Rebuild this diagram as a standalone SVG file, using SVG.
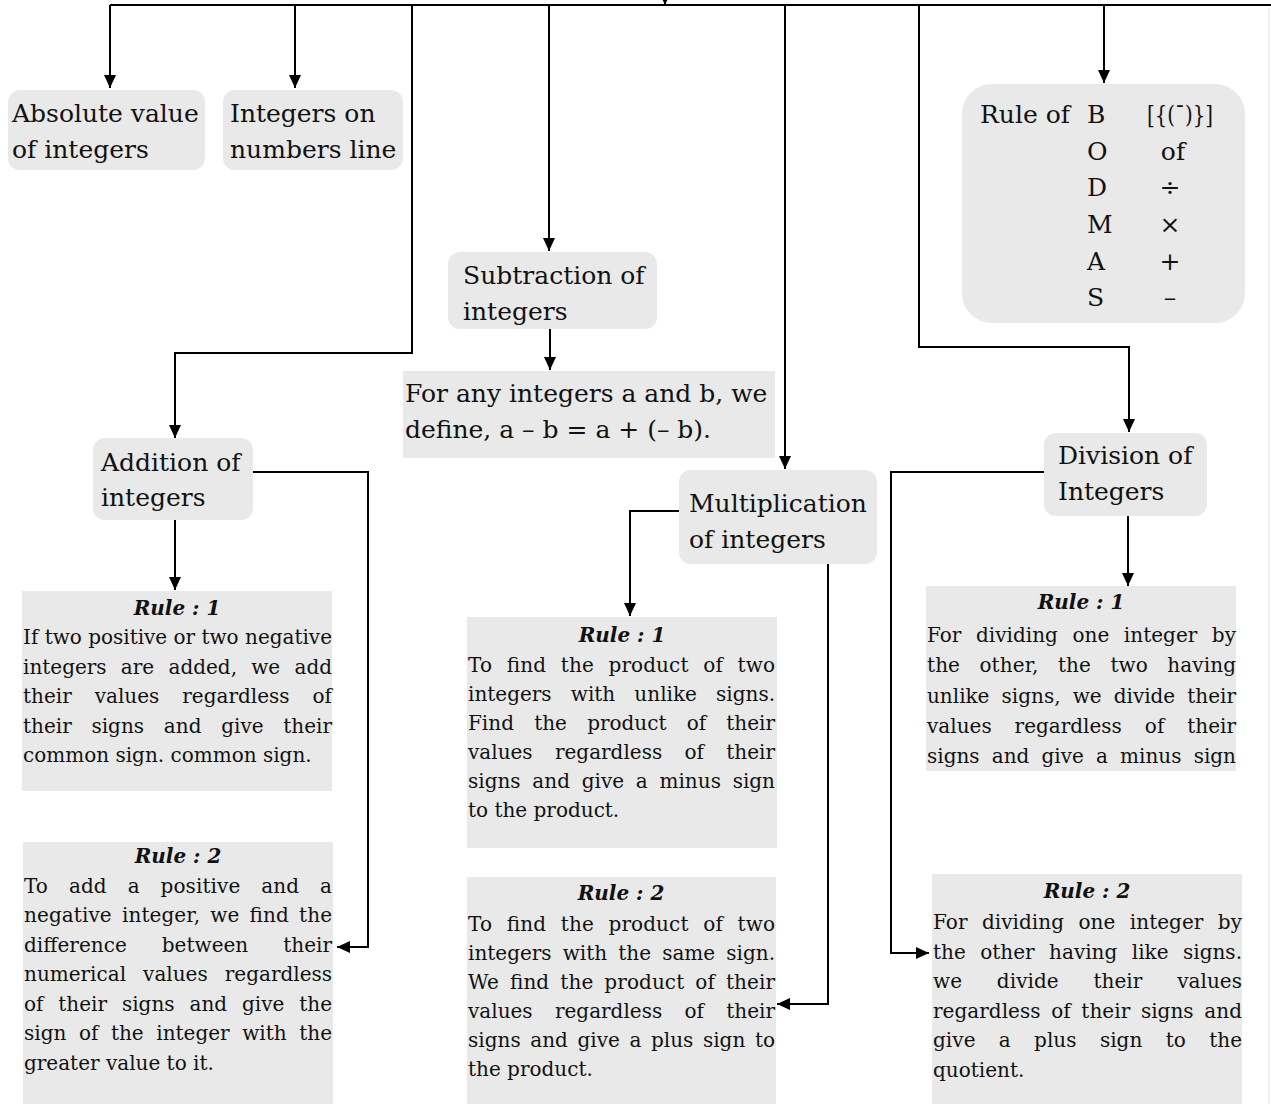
<svg xmlns="http://www.w3.org/2000/svg" width="1271" height="1104" viewBox="0 0 1271 1104">
  <style>
    .box { fill: #e9e9e9; }
    .t { font-family: "DejaVu Serif", "Liberation Serif", serif; font-size: 25px; fill: #111; }
    .b { font-family: "DejaVu Serif", "Liberation Serif", serif; font-size: 20px; fill: #111; }
    .h { font-family: "DejaVu Serif", "Liberation Serif", serif; font-size: 20px; font-weight: bold; font-style: italic; text-anchor: middle; fill: #111; }
    .m { text-anchor: middle; }
    .c { fill: none; stroke: #000; stroke-width: 2; }
  </style>
  <defs>
    <marker id="arr" viewBox="0 0 13 12" refX="13" refY="6" markerWidth="13" markerHeight="12" markerUnits="userSpaceOnUse" orient="auto">
      <path d="M0,0 L13,6 L0,12 z" fill="#000"/>
    </marker>
  </defs>
  <rect width="1271" height="1104" fill="#fff"/>

  <!-- connectors -->
  <g id="connectors">
    <line x1="1269" y1="8" x2="1269" y2="1104" stroke="#e2e2e2" stroke-width="1"/>
    <path class="c" d="M110,5 H1271"/>
    <path class="c" d="M665,-20 V5" marker-end="url(#arr)"/>
    <path class="c" d="M110,5 V88" marker-end="url(#arr)"/>
    <path class="c" d="M295,5 V88" marker-end="url(#arr)"/>
    <path class="c" d="M412,5 V353 H175 V438" marker-end="url(#arr)"/>
    <path class="c" d="M549,5 V251" marker-end="url(#arr)"/>
    <path class="c" d="M785,5 V469" marker-end="url(#arr)"/>
    <path class="c" d="M919,5 V347 H1129 V432" marker-end="url(#arr)"/>
    <path class="c" d="M1104,5 V83" marker-end="url(#arr)"/>
    <path class="c" d="M550,329 V370" marker-end="url(#arr)"/>
    <path class="c" d="M253,472 H368 V947 H337" marker-end="url(#arr)"/>
    <path class="c" d="M175,520 V590" marker-end="url(#arr)"/>
    <path class="c" d="M679,511 H630 V616" marker-end="url(#arr)"/>
    <path class="c" d="M828,564 V1004 H777" marker-end="url(#arr)"/>
    <path class="c" d="M1044,472 H891 V953 H929" marker-end="url(#arr)"/>
    <path class="c" d="M1128,516 V586" marker-end="url(#arr)"/>
  </g>

  <!-- top row -->
  <g id="absolute-value">
    <rect class="box" x="8" y="90" width="197" height="80" rx="12"/>
    <text class="t" x="12" y="122">Absolute value</text>
    <text class="t" x="12" y="158">of integers</text>
  </g>
  <g id="number-line">
    <rect class="box" x="223" y="90" width="180" height="80" rx="12"/>
    <text class="t" x="230" y="122">Integers on</text>
    <text class="t" x="230" y="158">numbers line</text>
  </g>
  <g id="bodmas">
    <rect class="box" x="962" y="84" width="283" height="239" rx="30"/>
    <text class="t" x="980" y="123">Rule of</text>
    <text class="t" x="1087" y="123">B</text>
    <text class="t" x="1087" y="160">O</text>
    <text class="t" x="1087" y="196">D</text>
    <text class="t" x="1087" y="233">M</text>
    <text class="t" x="1087" y="270">A</text>
    <text class="t" x="1087" y="306">S</text>
    <text class="t" x="1147" y="123" textLength="66" lengthAdjust="spacingAndGlyphs">[{(¯)}]</text>
    <text class="t m" x="1173" y="160">of</text>
    <text class="t m" x="1170" y="196">÷</text>
    <text class="t m" x="1170" y="233">×</text>
    <text class="t m" x="1170" y="270">+</text>
    <text class="t m" x="1170" y="306">–</text>
  </g>

  <!-- subtraction -->
  <g id="subtraction">
    <rect class="box" x="448" y="252" width="209" height="77" rx="12"/>
    <text class="t" x="463" y="284">Subtraction of</text>
    <text class="t" x="463" y="320">integers</text>
  </g>
  <g id="subtraction-definition">
    <rect class="box" x="403" y="371" width="372" height="87"/>
    <text class="t" x="405" y="402">For any integers a and b, we</text>
    <text class="t" x="405" y="438">define, a – b = a + (– b).</text>
  </g>

  <!-- addition -->
  <g id="addition">
    <rect class="box" x="93" y="438" width="160" height="82" rx="12"/>
    <text class="t" x="101" y="471">Addition of</text>
    <text class="t" x="101" y="506">integers</text>
  </g>
  <g id="addition-rule-1">
    <rect class="box" x="22" y="591" width="310" height="200"/>
    <text class="h" x="177" y="615">Rule : 1</text>
    <text class="b" x="23" y="644" textLength="309" lengthAdjust="spacing">If two positive or two negative</text>
    <text class="b" x="23" y="674" textLength="309" lengthAdjust="spacing" style="word-spacing:7.9px">integers are added, we add</text>
    <text class="b" x="23" y="703" textLength="309" lengthAdjust="spacing" style="word-spacing:16.6px">their values regardless of</text>
    <text class="b" x="23" y="733" textLength="309" lengthAdjust="spacing" style="word-spacing:13.4px">their signs and give their</text>
    <text class="b" x="23" y="762">common sign. common sign.</text>
  </g>
  <g id="addition-rule-2">
    <rect class="box" x="23" y="842" width="310" height="262"/>
    <text class="h" x="178" y="863">Rule : 2</text>
    <text class="b" x="24" y="893" textLength="308" lengthAdjust="spacing" style="word-spacing:14.5px">To add a positive and a</text>
    <text class="b" x="24" y="922" textLength="308" lengthAdjust="spacing" style="word-spacing:3.7px">negative integer, we find the</text>
    <text class="b" x="24" y="952" textLength="308" lengthAdjust="spacing" style="word-spacing:28.5px">difference between their</text>
    <text class="b" x="24" y="981" textLength="308" lengthAdjust="spacing" style="word-spacing:10.7px">numerical values regardless</text>
    <text class="b" x="24" y="1011" textLength="308" lengthAdjust="spacing" style="word-spacing:8.5px">of their signs and give the</text>
    <text class="b" x="24" y="1040" textLength="308" lengthAdjust="spacing" style="word-spacing:6.2px">sign of the integer with the</text>
    <text class="b" x="24" y="1070">greater value to it.</text>
  </g>

  <!-- multiplication -->
  <g id="multiplication">
    <rect class="box" x="679" y="470" width="198" height="94" rx="12"/>
    <text class="t" x="689" y="512">Multiplication</text>
    <text class="t" x="689" y="548">of integers</text>
  </g>
  <g id="multiplication-rule-1">
    <rect class="box" x="467" y="617" width="310" height="231"/>
    <text class="h" x="622" y="642">Rule : 1</text>
    <text class="b" x="468" y="672" textLength="307" lengthAdjust="spacing" style="word-spacing:8.3px">To find the product of two</text>
    <text class="b" x="468" y="701" textLength="307" lengthAdjust="spacing" style="word-spacing:12.8px">integers with unlike signs.</text>
    <text class="b" x="468" y="730" textLength="307" lengthAdjust="spacing" style="word-spacing:13.9px">Find the product of their</text>
    <text class="b" x="468" y="759" textLength="307" lengthAdjust="spacing" style="word-spacing:16px">values regardless of their</text>
    <text class="b" x="468" y="788" textLength="307" lengthAdjust="spacing" style="word-spacing:5.4px">signs and give a minus sign</text>
    <text class="b" x="468" y="817">to the product.</text>
  </g>
  <g id="multiplication-rule-2">
    <rect class="box" x="467" y="877" width="309" height="227"/>
    <text class="h" x="621" y="900">Rule : 2</text>
    <text class="b" x="468" y="931" textLength="307" lengthAdjust="spacing" style="word-spacing:8.3px">To find the product of two</text>
    <text class="b" x="468" y="960" textLength="307" lengthAdjust="spacing" style="word-spacing:4.8px">integers with the same sign.</text>
    <text class="b" x="468" y="989" textLength="307" lengthAdjust="spacing" style="word-spacing:4.6px">We find the product of their</text>
    <text class="b" x="468" y="1018" textLength="307" lengthAdjust="spacing" style="word-spacing:16px">values regardless of their</text>
    <text class="b" x="468" y="1047" textLength="307" lengthAdjust="spacing" style="word-spacing:3.2px">signs and give a plus sign to</text>
    <text class="b" x="468" y="1076">the product.</text>
  </g>

  <!-- division -->
  <g id="division">
    <rect class="box" x="1044" y="433" width="163" height="83" rx="12"/>
    <text class="t" x="1058" y="464">Division of</text>
    <text class="t" x="1058" y="500">Integers</text>
  </g>
  <g id="division-rule-1">
    <rect class="box" x="926" y="586" width="310" height="185"/>
    <text class="h" x="1081" y="609">Rule : 1</text>
    <text class="b" x="927" y="642" textLength="309" lengthAdjust="spacing" style="word-spacing:8.2px">For dividing one integer by</text>
    <text class="b" x="927" y="672" textLength="309" lengthAdjust="spacing" style="word-spacing:13px">the other, the two having</text>
    <text class="b" x="927" y="703" textLength="309" lengthAdjust="spacing" style="word-spacing:5.8px">unlike signs, we divide their</text>
    <text class="b" x="927" y="733" textLength="309" lengthAdjust="spacing" style="word-spacing:16.6px">values regardless of their</text>
    <text class="b" x="927" y="763" textLength="309" lengthAdjust="spacing" style="word-spacing:5.8px">signs and give a minus sign</text>
  </g>
  <g id="division-rule-2">
    <rect class="box" x="932" y="874" width="310" height="230"/>
    <text class="h" x="1087" y="898">Rule : 2</text>
    <text class="b" x="933" y="929" textLength="309" lengthAdjust="spacing" style="word-spacing:8px">For dividing one integer by</text>
    <text class="b" x="933" y="959" textLength="309" lengthAdjust="spacing" style="word-spacing:8px">the other having like signs.</text>
    <text class="b" x="933" y="988" textLength="309" lengthAdjust="spacing" style="word-spacing:28.4px">we divide their values</text>
    <text class="b" x="933" y="1018" textLength="309" lengthAdjust="spacing" style="word-spacing:4.3px">regardless of their signs and</text>
    <text class="b" x="933" y="1047" textLength="309" lengthAdjust="spacing" style="word-spacing:16.9px">give a plus sign to the</text>
    <text class="b" x="933" y="1077">quotient.</text>
  </g>
</svg>
